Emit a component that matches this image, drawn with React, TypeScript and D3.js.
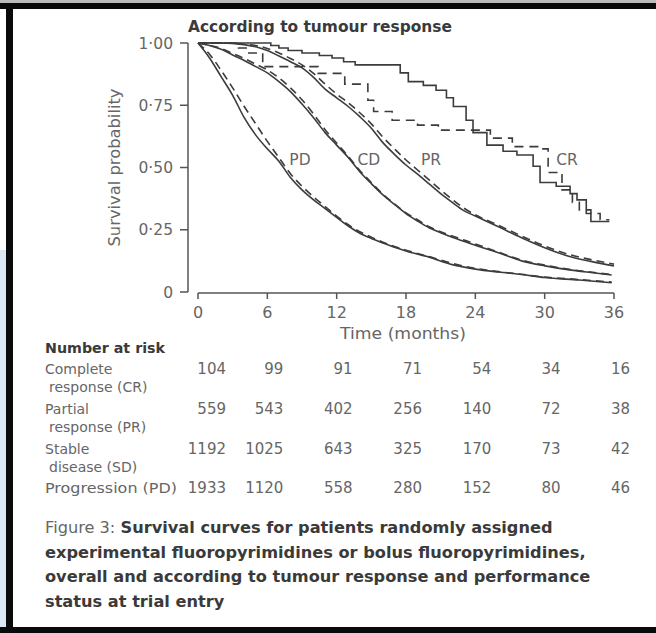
import React from 'react';
import * as d3 from 'd3';

// number-at-risk time points (months)
const months = [0, 6, 12, 18, 24, 30, 36];
const yTicks = [0, 0.25, 0.5, 0.75, 1];
const yTickLabels = ['0', '0·25', '0·50', '0·75', '1·00'];

// survival curves: [month, probability]
// solid = experimental, dashed = bolus
const crSolid = [
  [0, 1], [6.3, 0.99], [7.0, 0.98], [7.8, 0.97], [9.0, 0.96], [10.5, 0.95], [11.6, 0.94],
  [12.6, 0.925], [13.6, 0.912], [17.5, 0.88], [18.2, 0.845], [19.5, 0.83], [20.6, 0.81],
  [21.5, 0.78], [22.1, 0.745], [23.2, 0.69], [23.8, 0.64], [25.0, 0.59], [26.4, 0.565],
  [27.6, 0.55], [29.0, 0.505], [29.6, 0.44], [31.0, 0.425], [32.2, 0.395], [32.8, 0.37],
  [33.6, 0.315], [34.0, 0.283], [35.6, 0.283]
];
const crDashed = [
  [0, 1], [3.5, 0.98], [4.3, 0.96], [5.6, 0.905], [10.4, 0.878], [12.7, 0.835], [14.7, 0.77],
  [15.2, 0.725], [16.8, 0.69], [19.0, 0.67], [20.8, 0.65], [25.3, 0.618], [27.2, 0.584],
  [29.5, 0.575], [30.3, 0.48], [31.5, 0.41], [32.4, 0.36], [33.0, 0.33], [34.0, 0.315],
  [34.8, 0.29], [35.6, 0.29]
];
const prSolid = [
  [0, 1], [2, 1], [4, 0.993], [5, 0.985], [6, 0.97], [7, 0.948], [8, 0.925], [9, 0.9],
  [10, 0.862], [11, 0.815], [12, 0.78], [13, 0.745], [14, 0.704], [15, 0.658], [16, 0.6],
  [17, 0.553], [18, 0.51], [19, 0.473], [20, 0.434], [21, 0.395], [22, 0.36], [23, 0.327],
  [24, 0.305], [26, 0.262], [28, 0.218], [30, 0.178], [32, 0.145], [34, 0.123], [36, 0.105]
];
const prDashed = [
  [0, 1], [2, 1], [4, 0.995], [5, 0.99], [6, 0.978], [7, 0.96], [8, 0.938], [9, 0.912],
  [10, 0.878], [11, 0.835], [12, 0.795], [13, 0.76], [14, 0.72], [15, 0.675], [16, 0.622],
  [17, 0.575], [18, 0.53], [19, 0.49], [20, 0.45], [21, 0.41], [22, 0.372], [23, 0.337],
  [24, 0.31], [26, 0.268], [28, 0.225], [30, 0.185], [32, 0.152], [34, 0.13], [36, 0.112]
];
const sdSolid = [
  [0, 1], [1, 0.99], [2, 0.975], [3, 0.952], [4, 0.93], [5, 0.905], [6, 0.88], [7, 0.845],
  [8, 0.805], [9, 0.755], [10, 0.7], [11, 0.64], [12, 0.59], [13, 0.54], [14, 0.483],
  [15, 0.435], [16, 0.39], [17, 0.352], [18, 0.315], [19, 0.285], [20, 0.258], [21, 0.238],
  [22, 0.22], [24, 0.188], [26, 0.158], [28, 0.125], [30, 0.105], [32, 0.09], [34, 0.078],
  [35.8, 0.068]
];
const sdDashed = [
  [0, 1], [1, 0.99], [2, 0.978], [3, 0.958], [4, 0.938], [5, 0.915], [6, 0.892], [7, 0.86],
  [8, 0.82], [9, 0.772], [10, 0.715], [11, 0.652], [12, 0.598], [13, 0.545], [14, 0.488],
  [15, 0.44], [16, 0.393], [17, 0.354], [18, 0.318], [19, 0.29], [20, 0.262], [21, 0.242],
  [22, 0.225], [24, 0.193], [26, 0.16], [28, 0.128], [30, 0.108], [32, 0.092], [34, 0.08],
  [35.8, 0.07]
];
const pdSolid = [
  [0, 1], [1, 0.94], [2, 0.865], [3, 0.79], [4, 0.7], [5, 0.63], [6, 0.575], [7, 0.525],
  [8, 0.46], [9, 0.41], [10, 0.37], [11, 0.335], [12, 0.3], [13, 0.265], [14, 0.236],
  [15, 0.215], [16, 0.197], [17, 0.18], [18, 0.165], [20, 0.14], [22, 0.11], [24, 0.092],
  [26, 0.08], [28, 0.07], [30, 0.058], [33, 0.048], [35.8, 0.037]
];
const pdDashed = [
  [0, 1], [1, 0.955], [2, 0.89], [3, 0.82], [4, 0.745], [5, 0.675], [6, 0.605], [7, 0.54],
  [8, 0.475], [9, 0.425], [10, 0.382], [11, 0.343], [12, 0.305], [13, 0.27], [14, 0.242],
  [15, 0.22], [16, 0.2], [17, 0.183], [18, 0.168], [20, 0.142], [22, 0.115], [24, 0.095],
  [26, 0.082], [28, 0.071], [30, 0.06], [33, 0.05], [35.8, 0.04]
];

const curveLabels = ['PD', 'CD', 'PR', 'CR'];
const curveLabelMonths = [7.9, 13.8, 19.3, 31.0];

// number at risk table
const riskLine1 = ['Complete', 'Partial', 'Stable', 'Progression (PD)'];
const riskLine2 = ['response (CR)', 'response (PR)', 'disease (SD)', ''];
const riskCR = [104, 99, 91, 71, 54, 34, 16];
const riskPR = [559, 543, 402, 256, 140, 72, 38];
const riskSD = [1192, 1025, 643, 325, 170, 73, 42];
const riskPD = [1933, 1120, 558, 280, 152, 80, 46];
const riskRows = [riskCR, riskPR, riskSD, riskPD];

const captionLines = [
  'Survival curves for patients randomly assigned',
  'experimental fluoropyrimidines or bolus fluoropyrimidines,',
  'overall and according to tumour response and performance',
  'status at trial entry'
];

const W = 656;
const H = 633;
const FONT = '"DejaVu Sans", Verdana, sans-serif';
const INK = '#3a3a3a';
const GREY = '#666';

export default function App() {
  const x = d3.scaleLinear().domain([0, 36]).range([198, 614]);
  const y = d3.scaleLinear().domain([0, 1]).range([292, 43]);

  const smooth = d3.line<number[]>()
    .x(d => x(d[0]))
    .y(d => y(d[1]))
    .curve(d3.curveMonotoneX);
  const step = d3.line<number[]>()
    .x(d => x(d[0]))
    .y(d => y(d[1]))
    .curve(d3.curveStepAfter);

  const curves = [
    { d: smooth(pdSolid), dash: null },
    { d: smooth(pdDashed), dash: '8 5' },
    { d: smooth(sdSolid), dash: null },
    { d: smooth(sdDashed), dash: '8 5' },
    { d: smooth(prSolid), dash: null },
    { d: smooth(prDashed), dash: '8 5' },
    { d: step(crSolid), dash: null },
    { d: step(crDashed), dash: '9 6' }
  ];

  const axisY = 293;
  const rowTop = [374, 414, 454, 493];

  return (
    <svg width={W} height={H} style={{ position: 'absolute', left: 0, top: 0, background: '#fff' }}
      fontFamily={FONT}>
      <rect x={0} y={0} width={W} height={H} fill="#fff" />
      {/* frame */}
      <rect x={0} y={0} width={W} height={3} fill="#bbb" />
      <rect x={0} y={250} width={6} height={H - 250} fill="#dce8f6" />
      <rect x={0} y={3} width={W} height={6} fill="#0a0a0a" />
      <rect x={6} y={3} width={7} height={H - 3} fill="#0a0a0a" />
      <rect x={0} y={627} width={W} height={6} fill="#0a0a0a" />

      <text x={188} y={32} fontSize={15} fontWeight="bold" fill={INK}
        textLength={264} lengthAdjust="spacingAndGlyphs">According to tumour response</text>

      {/* y axis */}
      <line x1={188} x2={188} y1={y(1)} y2={y(0)} stroke="#555" strokeWidth={1.5} />
      {yTicks.map((t, i) => (
        <g key={t}>
          <line x1={180} x2={188} y1={y(t)} y2={y(t)} stroke="#555" strokeWidth={1.5} />
          <text x={173} y={y(t)} dy="0.36em" textAnchor="end" fontSize={15.5} fill={GREY}>{yTickLabels[i]}</text>
        </g>
      ))}
      <text transform={`translate(120,${y(0.5)}) rotate(-90)`} textAnchor="middle" fontSize={15.5} fill={GREY}
        textLength={158} lengthAdjust="spacingAndGlyphs">
        Survival probability
      </text>

      {/* x axis */}
      <line x1={x(0)} x2={x(36)} y1={axisY} y2={axisY} stroke="#555" strokeWidth={1.5} />
      {months.map(m => (
        <g key={m}>
          <line x1={x(m)} x2={x(m)} y1={axisY} y2={axisY + 6} stroke="#555" strokeWidth={1.5} />
          <text x={x(m)} y={318} textAnchor="middle" fontSize={16} fill={GREY}>{m}</text>
        </g>
      ))}
      <text x={403} y={339} textAnchor="middle" fontSize={15.5} fill={GREY}
        textLength={126} lengthAdjust="spacingAndGlyphs">Time (months)</text>

      {/* curves */}
      {curves.map((c, i) => (
        <path key={i} d={c.d || ''} fill="none" stroke="#3c3c3c" strokeWidth={1.6}
          strokeDasharray={c.dash || undefined} />
      ))}
      {curveLabels.map((l, i) => (
        <text key={l} x={x(curveLabelMonths[i])} y={y(0.51)} fontSize={15.5} fill={GREY}>{l}</text>
      ))}

      {/* number at risk */}
      <text x={45} y={353} fontSize={14} fontWeight="bold" fill={INK}
        textLength={120} lengthAdjust="spacingAndGlyphs">Number at risk</text>
      {riskRows.map((row, r) => (
        <g key={r}>
          {r === 3 ? (
            <text x={45} y={rowTop[r]} fontSize={14} fill={GREY}
              textLength={132} lengthAdjust="spacingAndGlyphs">{riskLine1[r]}</text>
          ) : (
            <text x={45} y={rowTop[r]} fontSize={14} fill={GREY}>{riskLine1[r]}</text>
          )}
          {riskLine2[r] && (
            <text x={49} y={rowTop[r] + 18} fontSize={14} fill={GREY}>{riskLine2[r]}</text>
          )}
          {row.map((v, j) => (
            <text key={j} x={x(months[j]) + (j === 0 ? 28 : 16)} y={rowTop[r]} textAnchor="end"
              fontSize={15} fill={GREY}>{v}</text>
          ))}
        </g>
      ))}

      {/* caption */}
      {captionLines.map((line, i) => (
        <text key={i} x={45} y={533 + i * 24.7} fontSize={16.2} fill={INK}>
          {i === 0 && <tspan fontWeight="normal" fill={GREY}>Figure 3: </tspan>}
          <tspan fontWeight="bold">{line}</tspan>
        </text>
      ))}
    </svg>
  );
}
